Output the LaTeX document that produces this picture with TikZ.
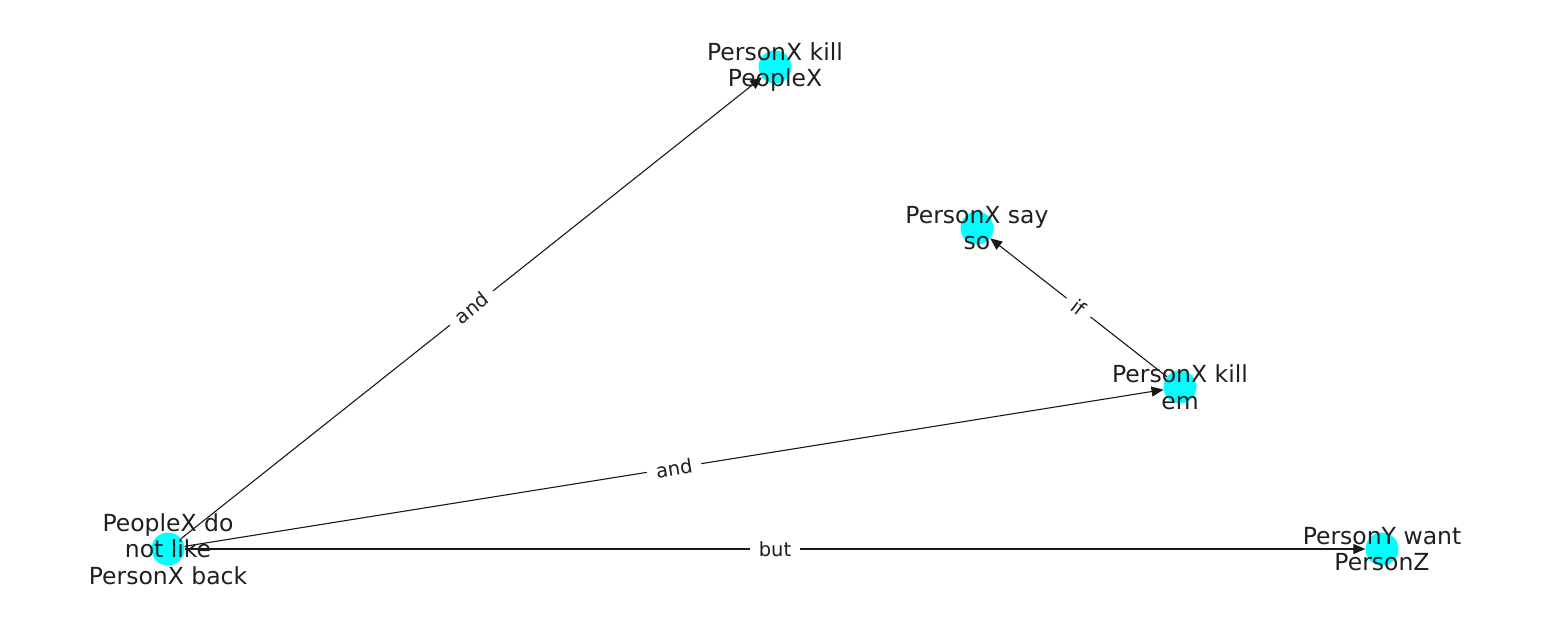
\documentclass[tikz,border=0pt]{standalone}
\usepackage{fontspec}
\setmainfont{DejaVu Sans}
\usetikzlibrary{arrows.meta}
\definecolor{nodecyan}{RGB}{0,255,255}
\begin{document}
\begin{tikzpicture}[x=1pt,y=-1pt,
  dot/.style={circle,fill=nodecyan,minimum size=33pt,inner sep=0pt,draw=none},
  lbl/.style={align=center,font=\fontsize{23.5}{26.5}\selectfont,text=black!88,inner sep=0pt},
  edge/.style={draw=black!90,line width=1.1pt,-{Triangle[length=12pt,width=10pt]}},
  elbl/.style={fill=white,font=\fontsize{19.5}{21}\selectfont,text=black!88,sloped,inner xsep=9pt,inner ysep=4pt}]
\useasboundingbox (0,0) rectangle (1550,616);
\node[dot] (a) at (168,549) {};
\node[dot] (b) at (775,67) {};
\node[dot] (c) at (977,228) {};
\node[dot] (d) at (1180,387) {};
\node[dot] (e) at (1382,549) {};
\draw[edge] (a) -- node[elbl]{and} (b);
\draw[edge] (a) -- node[elbl]{and} (d);
\draw[edge] (a) -- node[elbl]{but} (e);
\draw[edge] (d) -- node[elbl]{if} (c);
\node[lbl] (la) at (a) {PeopleX do\\not like\\PersonX back};
\node[lbl] (lb) at (b) {PersonX kill\\PeopleX};
\node[lbl] (lc) at (c) {PersonX say\\so};
\node[lbl] (ld) at (d) {PersonX kill\\em};
\node[lbl] (le) at (e) {PersonY want\\PersonZ};
\end{tikzpicture}
\end{document}
